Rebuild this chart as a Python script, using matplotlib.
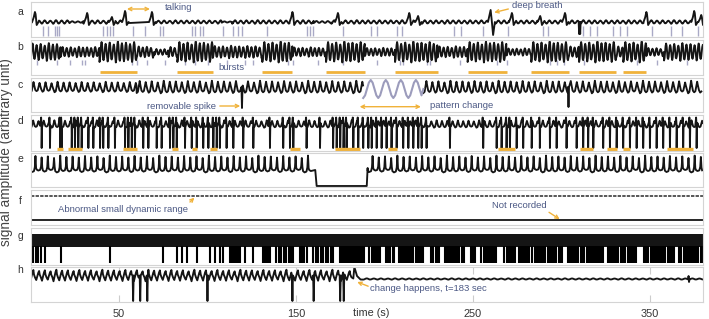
import numpy as np
import matplotlib
matplotlib.use("Agg")
import matplotlib.pyplot as plt

plt.rcParams['font.family'] = ['Liberation Sans', 'DejaVu Sans']

# ------------------------------------------------------------------ data
T_MAX = 380
x_ticks = [50, 150, 250, 350]
panel_letters = ['a', 'b', 'c', 'd', 'e', 'f', 'g', 'h']

# a : breathing with small ripples, tall breaths, talking gap
a_ripple_period = 3.2
a_ripple_segments = [(0, 22, 3.5), (22, 30, 1.5), (30, 55, 3.5), (67.5, 108, 3.2),
                     (108, 114, 1.2), (114, 160, 3.5), (160, 170, 2), (170, 380, 3.5)]
a_baseline = 15
a_peak_times = [2.5, 32, 46, 53.4, 68.6, 148, 173.7, 214, 219, 272, 288, 302, 348, 375, 379]
a_peak_heights = [25, 24, 20, 26, 25, 25, 24, 24, 21, 24, 21, 24, 25, 26, 22]
a_deep_breath_time = 260
a_deep_breath_levels = [27, 2]
a_dip_times = [310, 310.6]
a_dip_level = 3
a_event_times = [7.2, 10, 13.8, 14.8, 16.3, 41.1, 43, 44.9, 46.8, 58.1, 64.7, 73.2, 75.1,
                 91.1, 92.9, 95.8, 97.6, 108.9, 114.6, 117.4, 119.3, 133.4, 156, 157.9,
                 159.8, 176.7, 192.2, 196, 207, 210, 239.3, 243, 255.8, 269.9, 289.7,
                 292.5, 312.3, 316.1, 319.9, 329.3, 333, 336.8, 350.9, 362.2, 368.4, 377.3]

# b : oscillation with bursts
b_period = 2.3
b_center = 23
b_segments = [(0, 17, 17), (17, 39, 10), (39, 60, 20), (60, 70, 11), (70, 78, 6),
              (78, 83, 10), (83, 103, 20), (103, 131, 12), (131, 148, 20), (148, 167, 9),
              (167, 189, 20), (189, 206, 8), (206, 230, 20), (230, 247, 11), (247, 269, 20),
              (269, 283, 7), (283, 304, 20), (304, 310, 11), (310, 331, 20), (331, 335, 11),
              (335, 348, 20), (348, 358, 8), (358, 380, 17)]
b_burst_spans = [(39, 60), (83, 103), (131, 148), (167, 189), (206, 230), (247, 269),
                 (283, 304), (310, 331), (335, 348)]
b_event_times = [3.5, 14.8, 22.3, 28.9, 30.8, 57.2, 60, 65.6, 76, 87.3, 92.9, 100.5, 110.8,
                 121.2, 125.9, 145.7, 148.5, 162.6, 176.7, 195.7, 208.9, 210.7, 223.9, 225.8,
                 242.8, 263.5, 269.2, 293.7, 297.4, 301.2, 312.5, 342.7, 354, 371]

# c : regular oscillation, pattern change, removable spikes
c_period = 3.4
c_center = 25
c_segments = [(0, 60, 10), (60, 188, 12), (222, 380, 12)]
c_change_span = (188, 222)
c_change_period = 8.5
c_change_amp = 18
c_change_center = 23
c_spike_times = [119.5, 304]
c_spike_levels = [4, 5]

# d : oscillation with many downward spikes
d_period = 3.0
d_center = 27
d_amp = 7
d_spike_times = [6.3, 11, 16.7, 17.6, 23.3, 25.1, 27, 28.9, 32.7, 35.5, 39.3, 41.1, 44, 47.7,
                 53.4, 55.3, 57.2, 59, 63.7, 66.6, 71.3, 74.1, 78.8, 80.7, 82.6, 87.3, 91.1,
                 93.9, 97.6, 100.5, 103.3, 105.2, 107, 110.8, 114.6, 120.2, 125.9, 135.3,
                 142.8, 146.6, 148.5, 156, 163.6, 171, 173, 175, 176.9, 178.6, 182.4, 185.2,
                 188, 190.9, 192.8, 195.6, 198.4, 201.2, 204, 206.9, 210.6, 213.5, 216.3,
                 219.1, 221, 223.8, 237, 255.8, 263.4, 266.2, 269, 270.9, 274.7, 278.4,
                 283.2, 287.8, 293.5, 297.3, 302.9, 308.6, 312.3, 315.1, 318, 323.6, 327.4,
                 331.2, 334.9, 338.7, 342.5, 346.2, 350, 353.8, 357.5, 361.3, 365.1, 368.8,
                 372.6, 376.4]
d_spike_level = 3
d_marks = [(15, 18.4), (21.4, 28.9), (52.4, 60), (79.8, 83.5), (91, 93.9), (101.4, 105.2),
           (146.6, 152.3), (172, 186), (202, 206.9), (264.3, 273.7), (310.5, 318),
           (325.5, 331.2), (335, 338.7), (359.4, 374.5)]

# e : oscillation with a flat, lost section
e_period = 3.5
e_center = 23
e_amp = 16
e_segments = [(0, 159, 16), (190.5, 380, 16)]
e_flat_span = (161.7, 190)
e_flat_level = 1

# f : two flat channels
f_upper_level = 29
f_lower_level = 5

# g : saturated high-frequency channel
g_band = (18, 31)
g_low = 2
g_event_times = [1.6, 3.1, 4.4, 5.7, 8.2, 17.1, 44.9, 75.1, 82.6, 85.4, 88.2, 93.9, 101.4,
                 104.2, 107.1, 109, 112.7, 113.6, 114.6, 115.5, 116.5, 117.4, 118.4, 121.2,
                 125.9, 131.6, 132.5, 133.5, 134.4, 135.3, 139, 140.4, 141.8, 143.2, 144.6,
                 146, 147.1, 148.5, 152.3, 153.5, 154.8, 156, 159.8, 161.2, 162.6, 164,
                 165.4, 166.8, 168.2, 169.6, 171, 174.9, 176, 177.2, 178.3, 179.5, 180.6,
                 181.8, 183, 184.1, 185.2, 186.2, 187.3, 188.5, 191.5, 192.7, 193.9, 195.1,
                 196.3, 197.5, 201, 202.2, 203.4, 204.6, 205.6, 208, 209.2, 210.4, 211.6,
                 212.8, 214, 215.2, 216.4, 217.6, 218.8, 220, 221.2, 222, 226.5, 227.7,
                 228.9, 230, 230.9, 234, 235.2, 236.4, 237.6, 238.8, 240, 241.2, 242.4,
                 243.6, 244.8, 249, 250.2, 251.4, 254.8, 256, 257.2, 258.4, 259.6, 260.8,
                 262, 263, 267.8, 269, 270.2, 271.4, 272.6, 273.8, 276, 277.2, 278.4, 279.6,
                 280.8, 281.8, 283.6, 284.8, 286, 287.2, 288.4, 289.6, 290.8, 292.4, 293.6,
                 294.8, 296, 297.2, 298.4, 299.6, 300.6, 303.6, 304.8, 306, 307.2, 308.4,
                 309.6, 310.8, 311.8, 313, 314.2, 315.4, 316.6, 317.8, 319, 320.2, 321.4,
                 322.6, 323.3, 326.2, 327.4, 328.6, 329.8, 331, 332.2, 333.8, 335, 336.2,
                 337.4, 338.6, 339.8, 341, 342, 346.8, 348, 349.2, 350.4, 351.6, 352.8, 354,
                 355, 356.4, 357.6, 358.8, 360, 361.2, 362.4, 363.6, 366.6, 367.8, 369,
                 370.2, 371.4, 372.6, 373.8, 375, 376.2, 377.4, 378.6, 379.6]

# h : oscillation until change point, then flat
h_period = 3.25
h_center = 26.5
h_amp = 11
h_change_time = 183
h_change_peak = 35
h_after_level = 23
h_after_period = 4.0
h_after_amp = 1.2
h_spike_times = [58, 62, 66, 100, 148, 160, 175, 177]
h_spike_level = 1
h_late_spike_time = 372

# ------------------------------------------------------------------ style
INK = '#151515'
EVENT = '#a9a9c6'
ORANGE = '#f0b23a'
NOTE = '#4b5884'
PURPLE = '#9c9cbc'
SPINE = '#d4d4d4'
LW = 1.35

W_PX, H_PX = 709, 319
fig = plt.figure(figsize=(W_PX / 100, H_PX / 100), dpi=100)
L_PX, R_PX = 30.5, 703
panel_px = [(2, 37), (40, 75), (78, 112), (115, 151), (153, 187), (190, 225), (228, 265), (267, 302)]
letter_y_px = [12, 47, 85, 121, 159, 201, 236, 270]

SINE = [(i / 8, -np.cos(2 * np.pi * i / 8)) for i in range(8)]
SHAPE_C = [(0, -1), (0.2, -0.8), (0.5, 1), (0.62, 0.3), (0.8, -0.6)]
SHAPE_E = [(0, -0.85), (0.25, -1), (0.55, -0.9), (0.7, -0.4), (0.8, 1), (0.9, -0.5)]
SHAPE_H = [(0, -1), (0.35, 0.6), (0.5, 1), (0.6, 0.2), (0.8, -0.4)]
VARIATION = [1.0, 0.82, 0.95, 0.75, 1.05, 0.88, 0.93, 0.8]


def osc(t0, t1, period, amp, center, shape, vary=True):
    ts, ys = [], []
    t, k = t0, 0
    while t < t1 - 1e-9:
        a = amp * (VARIATION[k % len(VARIATION)] if vary else 1.0)
        for f, v in shape:
            tt = t + f * period
            if tt <= t1:
                ts.append(tt)
                ys.append(center + v * a / 2)
        t += period
        k += 1
    return ts, ys


def carve(ts, ys, t0, t1):
    keep = [(t, y) for t, y in zip(ts, ys) if not (t0 <= t <= t1)]
    return [k[0] for k in keep], [k[1] for k in keep]


def add_event(ts, ys, t, profile):
    lo = t + min(p[0] for p in profile)
    hi = t + max(p[0] for p in profile)
    ts, ys = carve(ts, ys, lo, hi)
    for dt, y in profile:
        ts.append(t + dt)
        ys.append(y)
    order = np.argsort(ts)
    return list(np.array(ts)[order]), list(np.array(ys)[order])


def panel(i):
    top, bot = panel_px[i]
    ax = fig.add_axes([L_PX / W_PX, 1 - bot / H_PX, (R_PX - L_PX) / W_PX, (bot - top) / H_PX])
    ax.set_xlim(0, T_MAX)
    ax.set_ylim(0, bot - top)
    for s in ax.spines.values():
        s.set_color(SPINE)
        s.set_linewidth(0.8)
    ax.set_xticks([])
    ax.set_yticks([])
    fig.text(20 / W_PX, 1 - letter_y_px[i] / H_PX, panel_letters[i], fontsize=7.5,
             color='#333333', ha='center', va='center')
    return ax


def note(ax, s, t, y, ha='left'):
    ax.text(t, y, s, fontsize=6.8, color=NOTE, ha=ha, va='center')


def arrow(ax, start, end, style='->'):
    ax.annotate('', xy=end, xytext=start,
                arrowprops=dict(arrowstyle=style, color=ORANGE, lw=1.0,
                                shrinkA=0, shrinkB=0, mutation_scale=6))

# ------------------------------------------------------------------ a
ax = panel(0)
ax.vlines(a_event_times, 1.5, 11, color=EVENT, lw=1.0)
ts, ys = [], []
for s0, s1, amp in a_ripple_segments:
    t_, y_ = osc(s0, s1, a_ripple_period, amp, a_baseline, SINE)
    ts += t_
    ys += y_
ts.append(56); ys.append(a_baseline - 1)
ts.append(67); ys.append(a_baseline - 1)
order = np.argsort(ts)
ts, ys = list(np.array(ts)[order]), list(np.array(ys)[order])
for tp, hp in zip(a_peak_times, a_peak_heights):
    prof = [(-1.6, a_baseline), (-0.7, a_baseline + 0.45 * (hp - a_baseline)), (0, hp),
            (0.35, hp - 2), (1.0, a_baseline - 3), (2.0, a_baseline)]
    ts, ys = add_event(ts, ys, tp, prof)
db_hi, db_lo = a_deep_breath_levels
ts, ys = add_event(ts, ys, a_deep_breath_time,
                   [(-1.5, a_baseline), (0, db_hi), (0.6, 17), (1.4, db_lo), (2.4, a_baseline)])
for td in a_dip_times:
    ts, ys = add_event(ts, ys, td, [(-0.25, a_baseline), (0, a_dip_level), (0.25, a_baseline)])
ax.plot(ts, ys, color=INK, lw=LW)
arrow(ax, (54.5, 28), (67.5, 28), '<->')
note(ax, 'talking', 76, 29)
note(ax, 'deep breath', 272, 31)
arrow(ax, (270, 28), (262, 24.5))

# ------------------------------------------------------------------ b
ax = panel(1)
ax.vlines(b_event_times, 10, 15.5, color=EVENT, lw=1.0)
ts, ys = [], []
for s0, s1, amp in b_segments:
    t_, y_ = osc(s0, s1, b_period, amp, b_center, SINE)
    ts += t_
    ys += y_
ax.plot(ts, ys, color=INK, lw=LW)
for s0, s1 in b_burst_spans:
    ax.plot([s0, s1], [3, 3], color=ORANGE, lw=2.0, solid_capstyle='butt')
note(ax, 'bursts', 106, 8)

# ------------------------------------------------------------------ c
ax = panel(2)
ts, ys = [], []
for s0, s1, amp in c_segments:
    t_, y_ = osc(s0, s1, c_period, amp, c_center, SHAPE_C)
    ts += t_
    ys += y_
for tsp, lvl in zip(c_spike_times, c_spike_levels):
    ts, ys = add_event(ts, ys, tsp, [(-0.3, c_center), (0, lvl), (0.3, c_center)])
ts = np.array(ts)
ys = np.array(ys)
cs0, cs1 = c_change_span
ax.plot(ts[ts <= cs0], ys[ts <= cs0], color=INK, lw=LW)
ax.plot(ts[ts >= cs1], ys[ts >= cs1], color=INK, lw=LW)
t_, y_ = osc(cs0, cs1, c_change_period, c_change_amp, c_change_center, SINE, vary=False)
ax.plot(t_ + [cs1], y_ + [c_change_center], color=PURPLE, lw=1.5)
note(ax, 'removable spike', 66, 6)
arrow(ax, (107, 6), (118.5, 6))
arrow(ax, (186, 5.3), (220.6, 5.3), '<->')
note(ax, 'pattern change', 225.7, 7)

# ------------------------------------------------------------------ d
ax = panel(3)
ts, ys = osc(0, T_MAX, d_period, d_amp, d_center, SHAPE_C)
for tsp in d_spike_times:
    ts, ys = add_event(ts, ys, tsp, [(-0.55, 29), (-0.3, 33.5), (-0.08, 27),
                                      (0, d_spike_level), (0.2, 24)])
ax.plot(ts, ys, color=INK, lw=LW)
for s0, s1 in d_marks:
    ax.plot([s0, s1], [1.6, 1.6], color=ORANGE, lw=2.4, solid_capstyle='butt')

# ------------------------------------------------------------------ e
ax = panel(4)
ts, ys = [], []
for s0, s1, amp in e_segments:
    t_, y_ = osc(s0, s1, e_period, amp, e_center, SHAPE_E)
    ts += t_
    ys += y_
fs0, fs1 = e_flat_span
ts += [fs0 - 0.8, fs0, fs1, fs1 + 0.5]
ys += [e_center - 6, e_flat_level, e_flat_level, e_center - 4]
order = np.argsort(ts)
ax.plot(np.array(ts)[order], np.array(ys)[order], color=INK, lw=LW)

# ------------------------------------------------------------------ f
ax = panel(5)
ax.plot([0, T_MAX], [f_upper_level, f_upper_level], color='#2a2a2a', lw=1.1,
        linestyle=(0, (2.2, 0.8)))
ax.plot([0, T_MAX], [f_lower_level, f_lower_level], color=INK, lw=1.3)
note(ax, 'Abnormal small dynamic range', 15.5, 15)
arrow(ax, (90.1, 23), (92.6, 27.3))
note(ax, 'Not recorded', 260.5, 20)
arrow(ax, (293, 12.7), (299, 5.8))

# ------------------------------------------------------------------ g
ax = panel(6)
ax.fill_between([0, T_MAX], [g_band[0]] * 2, [g_band[1]] * 2, color=INK, lw=0)
ax.vlines(g_event_times, g_low, g_band[0] + 1, color='#000000', lw=1.5)

# ------------------------------------------------------------------ h
ax = panel(7)
ts, ys = osc(0, h_change_time - 1, h_period, h_amp, h_center, SHAPE_H)
for tsp in h_spike_times:
    ts, ys = add_event(ts, ys, tsp, [(-0.3, h_center), (0, h_spike_level), (0.3, h_center)])
ts += [h_change_time - 0.6, h_change_time, h_change_time + 1.5, h_change_time + 3.5]
ys += [h_center - 3, h_change_peak, h_after_level + 3, h_after_level - 0.5]
t_, y_ = osc(h_change_time + 5, T_MAX, h_after_period, h_after_amp, h_after_level, SINE)
ts += t_
ys += y_
order = np.argsort(ts)
ts, ys = list(np.array(ts)[order]), list(np.array(ys)[order])
ts, ys = add_event(ts, ys, h_late_spike_time, [(-0.4, h_after_level), (-0.15, 26),
                                                (0.1, 20), (0.4, h_after_level)])
ax.plot(ts, ys, color=INK, lw=LW)
note(ax, 'change happens, t=183 sec', 191.8, 13.5)
arrow(ax, (190.8, 15.8), (184.6, 20))
ax.set_xticks(x_ticks)
ax.set_xticklabels([str(v) for v in x_ticks])
ax.tick_params(axis='x', direction='in', length=5, color='#cccccc', top=True,
               labelsize=7.8, pad=5, labelcolor='#333333')

fig.text(371 / W_PX, 1 - 313 / H_PX, 'time (s)', fontsize=7.8, color='#333333',
         ha='center', va='center')
fig.text(6 / W_PX, 1 - 152 / H_PX, 'signal amplitude (arbitrary unit)', fontsize=9.8,
         color='#444444', rotation=90, ha='center', va='center')

fig.savefig('out.png', dpi=100)
